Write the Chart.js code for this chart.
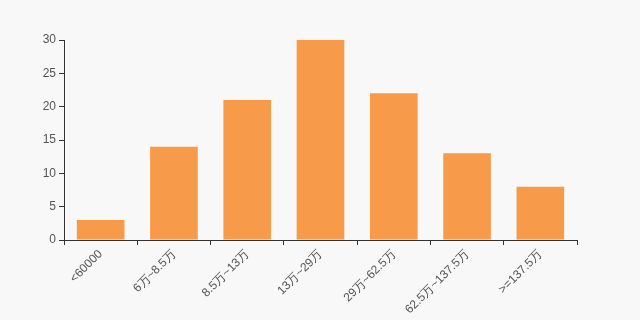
<!DOCTYPE html>
<html>
<head>
<meta charset="utf-8">
<script src="https://cdn.jsdelivr.net/npm/chart.js@4"></script>
<style>
    html, body { margin: 0; padding: 0; background: #f8f8f8; }
    #wrap { width: 640px; height: 320px; }
</style>
</head>
<body>
<div id="wrap"><canvas id="chart" width="640" height="320"></canvas></div>
<script>
const categories = ['<60000', '6万~8.5万', '8.5万~13万', '13万~29万', '29万~62.5万', '62.5万~137.5万', '>=137.5万'];
const counts = [3, 14, 21, 30, 22, 13, 8];
const yTicks = [0, 5, 10, 15, 20, 25, 30];

const axisColor = '#333';
const labelColor = '#555';
const font = { family: '"Liberation Sans", Arial, sans-serif', size: 12 };

new Chart(document.getElementById('chart'), {
    type: 'bar',
    data: {
        labels: categories,
        datasets: [{
            data: counts,
            backgroundColor: '#f79a49',
            categoryPercentage: 1,
            barPercentage: 0.65
        }]
    },
    options: {
        responsive: false,
        animation: false,
        layout: { padding: { top: 40, right: 63, left: 0, bottom: 0 } },
        plugins: { legend: { display: false }, tooltip: { enabled: false } },
        scales: {
            x: {
                offset: true,
                afterFit: (scale) => { scale.height = 80; },
                grid: {
                    offset: true,
                    drawOnChartArea: false,
                    drawTicks: true,
                    tickLength: 5,
                    color: axisColor
                },
                border: { display: true, color: axisColor },
                ticks: {
                    color: labelColor,
                    font,
                    minRotation: 45,
                    maxRotation: 45,
                    autoSkip: false,
                    padding: 2
                }
            },
            y: {
                min: 0,
                max: 30,
                afterFit: (scale) => { scale.width = 64; },
                afterBuildTicks: (scale) => { scale.ticks = yTicks.map(v => ({ value: v })); },
                grid: {
                    drawOnChartArea: false,
                    drawTicks: true,
                    tickLength: 5,
                    color: axisColor
                },
                border: { display: true, color: axisColor },
                ticks: { color: labelColor, font, padding: 3 }
            }
        }
    }
});
</script>
</body>
</html>
